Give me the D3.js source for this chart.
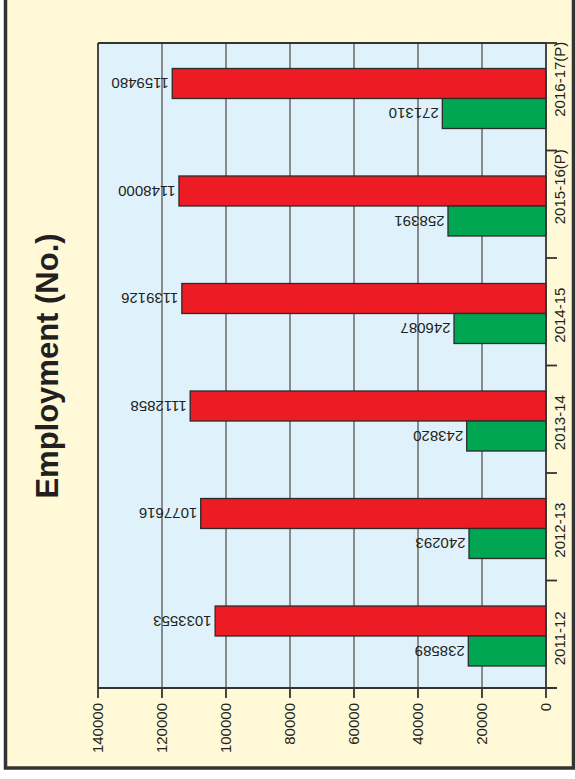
<!DOCTYPE html>
<html>
<head>
<meta charset="utf-8">
<script src="https://cdn.jsdelivr.net/npm/d3@7/dist/d3.min.js"></script>
<style>
  html, body { margin: 0; padding: 0; background: #ffffff; }
  svg { display: block; }
  text { font-family: "Liberation Sans", Arial, sans-serif; }
</style>
</head>
<body>
<svg id="chart" width="575" height="779"></svg>
<script>
// ---- data ----
const categories = ["2011-12", "2012-13", "2013-14", "2014-15", "2015-16(P)", "2016-17(P)"];
// bar lengths as read against the value axis
const greenValues = [24280, 24060, 24780, 28750, 30630, 32400];
const redValues = [103400, 107900, 111200, 113800, 114700, 116800];
// data labels printed next to the bars
const greenLabels = ["238589", "240293", "243820", "246087", "258391", "271310"];
const redLabels = ["1033553", "1077616", "1112858", "1139126", "1148000", "1159480"];
const axisTicks = [0, 20000, 40000, 60000, 80000, 100000, 120000, 140000];
const titleText = "Employment (No.)";

(function () {
const svg = d3.select("#chart");

// outer frame
svg.append("rect")
  .attr("x", 5.5).attr("y", -10).attr("width", 568).attr("height", 778)
  .attr("fill", "#fff9d8").attr("stroke", "#333").attr("stroke-width", 3.5);

const pL = 98, pR = 546, pT = 43, pB = 688;

const x = d3.scaleLinear().domain([0, 140000]).range([pR, pL]);
const y = d3.scaleBand().domain(categories.slice().reverse()).range([pT, pB]);
const sub = d3.scaleBand().domain(["red", "green"]).range([25.5, 85.5]);

// plot background
svg.append("rect")
  .attr("x", pL).attr("y", pT).attr("width", pR - pL).attr("height", pB - pT)
  .attr("fill", "#dff2fb");

// gridlines
svg.append("g").selectAll("line")
  .data(axisTicks.filter(d => d > 0 && d < 140000))
  .join("line")
  .attr("x1", d => x(d)).attr("x2", d => x(d))
  .attr("y1", pT).attr("y2", pB)
  .attr("stroke", "#707070").attr("stroke-width", 1.6);

// bars
const rows = categories.map((c, i) => ({
  c,
  green: greenValues[i], greenLabel: greenLabels[i],
  red: redValues[i], redLabel: redLabels[i]
}));
const series = [
  { key: "red", color: "#ed1c24" },
  { key: "green", color: "#00a651" }
];

const g = svg.append("g");
series.forEach(s => {
  g.selectAll("rect." + s.key)
    .data(rows)
    .join("rect")
    .attr("class", s.key)
    .attr("x", d => x(d[s.key]))
    .attr("y", d => y(d.c) + sub(s.key))
    .attr("width", d => pR - x(d[s.key]))
    .attr("height", sub.bandwidth())
    .attr("fill", s.color)
    .attr("stroke", "#2b2b2b").attr("stroke-width", 1.3);

  g.selectAll("text." + s.key)
    .data(rows)
    .join("text")
    .attr("class", s.key)
    .attr("transform", d => `translate(${x(d[s.key]) - 3.5},${y(d.c) + sub(s.key) + sub.bandwidth() / 2}) rotate(180)`)
    .attr("text-anchor", "start")
    .attr("dy", "0.36em")
    .attr("font-size", 15)
    .attr("fill", "#231f20")
    .text(d => d[s.key + "Label"]);
});

// frame lines of plot
const frame = svg.append("g").attr("stroke", "#333").attr("stroke-width", 1.8).attr("fill", "none");
frame.append("line").attr("x1", pL).attr("x2", pL).attr("y1", pT).attr("y2", pB);
frame.append("line").attr("x1", pL).attr("x2", pR).attr("y1", pT).attr("y2", pT);
frame.append("line").attr("x1", pR).attr("x2", pR).attr("y1", pT).attr("y2", pB);
frame.append("line").attr("x1", pL).attr("x2", pR + 11).attr("y1", pB).attr("y2", pB);

// category ticks at band boundaries
const bounds = categories.map(c => y(c)).concat([pB]);
frame.selectAll("line.ct")
  .data(bounds)
  .join("line")
  .attr("class", "ct")
  .attr("x1", pR).attr("x2", pR + 11)
  .attr("y1", d => d).attr("y2", d => d);

// value ticks
frame.selectAll("line.vt")
  .data(axisTicks)
  .join("line")
  .attr("class", "vt")
  .attr("x1", d => x(d)).attr("x2", d => x(d))
  .attr("y1", pB).attr("y2", pB + 10);

// value tick labels
svg.append("g").selectAll("text")
  .data(axisTicks)
  .join("text")
  .attr("transform", d => `translate(${x(d)},703) rotate(-90)`)
  .attr("text-anchor", "end")
  .attr("dy", "0.36em")
  .attr("font-size", 15)
  .attr("fill", "#231f20")
  .text(d => d);

// category labels
svg.append("g").selectAll("text")
  .data(categories)
  .join("text")
  .attr("font-size", 15)
  .attr("fill", "#231f20")
  .attr("text-anchor", "start")
  .text(d => d)
  .each(function (d) {
    const w = this.getComputedTextLength();
    const yc = y(d) + y.bandwidth() / 2;
    const yBottom = yc + 31 - Math.max(0, w - 55) * 0.55;
    d3.select(this).attr("transform", `translate(565,${yBottom}) rotate(-90)`);
  });

// title
svg.append("text")
  .attr("transform", `translate(58,366) rotate(-90)`)
  .attr("text-anchor", "middle")
  .attr("font-size", 31)
  .attr("font-weight", "bold")
  .attr("fill", "#231f20")
  .text(titleText);
})();
</script>
</body>
</html>
